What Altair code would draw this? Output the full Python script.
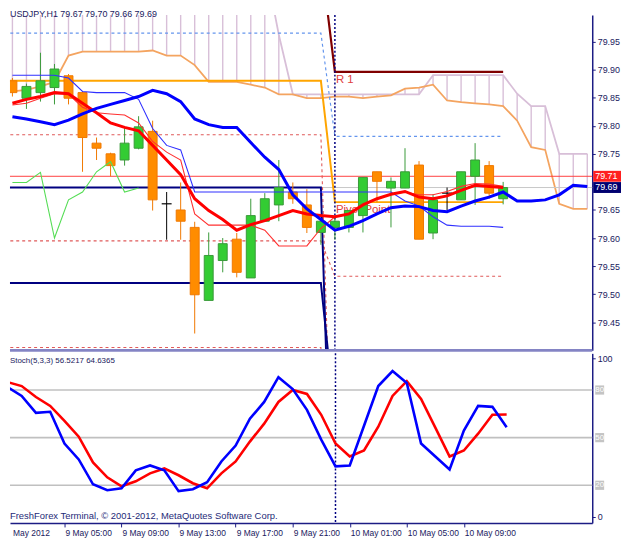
import altair as alt
import pandas as pd

# ---------------- data (USDJPY H1, bar index 0 = 9 May 2012 00:00) ----------------
bar_index = list(range(1, 37))
open_ = [79.880, 79.849, 79.859, 79.868, 79.889, 79.859, 79.769, 79.750, 79.739, 79.760,
         79.790, 79.661, 79.650, 79.619, 79.489, 79.560, 79.598, 79.529, 79.630, 79.659,
         79.682, 79.659, 79.610, 79.619, 79.619, 79.640, 79.718, 79.689, 79.689, 79.730,
         79.609, 79.680, 79.668, 79.710, 79.729, 79.670]
high = [79.885, 79.875, 79.930, 79.910, 79.892, 79.862, 79.779, 79.752, 79.797, 79.817,
        79.809, 79.682, 79.699, 79.629, 79.610, 79.600, 79.609, 79.670, 79.680, 79.739,
        79.699, 79.687, 79.635, 79.635, 79.649, 79.708, 79.718, 79.708, 79.760, 79.737,
        79.678, 79.690, 79.718, 79.769, 79.737, 79.700]
low = [79.852, 79.830, 79.843, 79.838, 79.838, 79.718, 79.739, 79.710, 79.729, 79.758,
       79.649, 79.597, 79.597, 79.430, 79.489, 79.539, 79.530, 79.529, 79.630, 79.630,
       79.661, 79.609, 79.588, 79.597, 79.610, 79.610, 79.664, 79.619, 79.689, 79.598,
       79.598, 79.650, 79.668, 79.659, 79.670, 79.660]
close = [79.859, 79.870, 79.880, 79.901, 79.849, 79.779, 79.760, 79.729, 79.769, 79.798,
         79.668, 79.661, 79.630, 79.499, 79.569, 79.590, 79.539, 79.640, 79.670, 79.690,
         79.670, 79.619, 79.630, 79.630, 79.649, 79.708, 79.701, 79.701, 79.718, 79.598,
         79.668, 79.680, 79.718, 79.739, 79.680, 79.690]

tenkan = [79.840, 79.847, 79.852, 79.859, 79.857, 79.840, 79.823, 79.805, 79.797, 79.791,
          79.765, 79.739, 79.713, 79.670, 79.649, 79.633, 79.614, 79.624, 79.631, 79.640,
          79.649, 79.643, 79.640, 79.638, 79.643, 79.659, 79.670, 79.678, 79.683, 79.673,
          79.670, 79.675, 79.685, 79.694, 79.692, 79.690]
thin_red = [79.837, 79.840, 79.849, 79.857, 79.856, 79.833, 79.823, 79.821, 79.819, 79.805,
            79.772, 79.753, 79.739, 79.643, 79.623, 79.623, 79.623, 79.623, 79.614, 79.586,
            79.586, 79.586, 79.617, 79.638, 79.643, 79.659, 79.670, 79.678, 79.682, 79.677,
            79.677, 79.683, 79.692, 79.697, 79.696, 79.692]
thin_blue = [79.890, 79.890, 79.890, 79.890, 79.885, 79.861, 79.859, 79.859, 79.859, 79.847,
             79.795, 79.765, 79.757, 79.682, 79.682, 79.682, 79.682, 79.682, 79.682, 79.682,
             79.682, 79.682, 79.682, 79.682, 79.682, 79.682, 79.682, 79.682, 79.666, 79.657,
             79.638, 79.623, 79.621, 79.621, 79.621, 79.619]

span_index = list(range(1, 43))
kijun = [79.816, 79.812, 79.807, 79.802, 79.810, 79.821, 79.831, 79.838, 79.845, 79.852,
         79.863, 79.857, 79.843, 79.812, 79.802, 79.797, 79.797, 79.770, 79.744, 79.722,
         79.677, 79.652, 79.633, 79.614, 79.621, 79.631, 79.643, 79.654, 79.657, 79.656,
         79.649, 79.647, 79.657, 79.666, 79.673, 79.682, 79.666, 79.666, 79.668, 79.677,
         79.694, 79.692]
senkou_a = [79.861, 79.864, 79.870, 79.878, 79.925, 79.932, 79.932, 79.932, 79.932, 79.932,
            79.934, 79.925, 79.925, 79.908, 79.878, 79.878, 79.878, 79.873, 79.868, 79.856,
            79.856, 79.849, 79.849, 79.852, 79.852, 79.849, 79.852, 79.854, 79.866, 79.868,
            79.873, 79.845, 79.842, 79.840, 79.838, 79.835, 79.809, 79.762, 79.757, 79.661,
            79.652, 79.652]
senkou_b = [80.090] * 19 + [79.962] + [79.856] * 10 + [79.890] * 6 + \
           [79.857, 79.835, 79.835, 79.750, 79.750, 79.750]

chikou_index = list(range(1, 11))
chikou = [79.699, 79.699, 79.717, 79.600, 79.668, 79.682, 79.718, 79.736, 79.682, 79.689]

# daily pivot levels: value for 9 May (old) and for 10 May (new)
level_names = ["R1", "blue_dash", "red_dash_1", "red_dash_2", "red_dash_3", "navy_1", "navy_2", "pivot"]
level_old = [80.100, 79.965, 79.784, 79.595, 79.405, 79.690, 79.520, 79.880]
level_new = [79.896, 79.781, 78.970, 79.532, 78.900, 78.900, 79.280, 79.664]
last_old_bar = 23
first_new_bar = 24
last_bar = 36

ask_line = 79.71
bid_line = 79.69

# stochastic (5,3,3)
stoch_k = [81.9, 76.3, 65.6, 66.3, 46.3, 36.3, 20.6, 16.9, 18.1, 29.4, 32.5, 29.4, 16.3,
           17.5, 21.9, 35.0, 45.0, 61.9, 72.5, 88.1, 80.6, 67.5, 48.8, 31.9, 32.5, 57.5,
           82.5, 91.9, 84.4, 46.3, 38.1, 30.0, 54.4, 70.0, 69.4, 56.5]
stoch_d = [85.0, 82.5, 75.6, 70.0, 60.6, 50.6, 34.4, 25.0, 19.4, 22.5, 27.5, 30.6, 26.3,
           21.3, 18.1, 27.5, 35.0, 47.5, 58.8, 72.5, 80.0, 77.5, 64.4, 46.3, 38.1, 41.9,
           56.9, 76.3, 85.6, 74.4, 56.3, 38.1, 41.9, 52.5, 64.4, 64.6]
stoch_levels = [80, 50, 20]

tick_bars = [5, 9, 13, 17, 21, 25, 29, 33]
tick_labels = ["9 May 05:00", "9 May 09:00", "9 May 13:00", "9 May 17:00", "9 May 21:00",
               "10 May 01:00", "10 May 05:00", "10 May 09:00"]
price_ticks = [79.45, 79.50, 79.55, 79.60, 79.65, 79.75, 79.80, 79.85, 79.90, 79.95]

title_text = "USDJPY,H1  79.67 79.70 79.66 79.69"
stoch_text = "Stoch(5,3,3) 56.5217 64.6365"
footer_text = "FreshForex Terminal, \u00a9 2001-2012, MetaQuotes Software Corp."

# ---------------- layout / styles ----------------
W = 587
H_MAIN = 338
H_STOCH = 171
FONT = "Liberation Sans"
AXC = "#1c1c84"
TXT = "#1a1a60"

XS = alt.Scale(domain=[1.18, 42.0], nice=False, zero=False)
YS = alt.Scale(domain=[79.40, 79.997], nice=False, zero=False)
SS = alt.Scale(domain=[-3.75, 103.1], nice=False, zero=False)

yax = alt.Axis(orient="right", values=price_ticks, format=".2f", title=None, grid=False,
               domainColor=AXC, domainWidth=1.5, tickColor=AXC, tickSize=3,
               labelColor=TXT, labelFont=FONT, labelFontSize=9, labelPadding=2)
sax = alt.Axis(orient="right", values=[0, 100], title=None, grid=False,
               domainColor=AXC, domainWidth=1.5, tickColor=AXC, tickSize=3,
               labelColor=TXT, labelFont=FONT, labelFontSize=9, labelPadding=2)
xax = alt.Axis(values=tick_bars, labels=False, title=None, grid=False, domainColor=AXC,
               domainWidth=1.5, tickColor=AXC, tickSize=4)


def XM(f="i"):
    return alt.X(f"{f}:Q", scale=XS, axis=None)


def XS_(f="i"):
    return alt.X(f"{f}:Q", scale=XS, axis=xax)


def Y(f):
    return alt.Y(f"{f}:Q", scale=YS, axis=yax)


def S(f):
    return alt.Y(f"{f}:Q", scale=SS, axis=sax)


# ---------------- main panel ----------------
cloud = pd.DataFrame({"i": span_index, "a": senkou_a, "b": senkou_b, "kijun": kijun})
candles = pd.DataFrame({"i": bar_index, "o": open_, "h": high, "l": low, "c": close,
                        "tenkan": tenkan, "tr": thin_red, "tb": thin_blue})
candles["dir"] = ["up" if c > o else ("down" if c < o else "doji") for o, c in zip(open_, close)]
chik = pd.DataFrame({"i": chikou_index, "p": chikou})

layers = []
layers.append(alt.Chart(cloud).mark_rule(color="#D8BFD8", strokeWidth=1.4, clip=True)
              .encode(x=XM(), y=Y("a"), y2="b"))
layers.append(alt.Chart(cloud).mark_line(color="#D8BFD8", strokeWidth=1.8, clip=True)
              .encode(x=XM(), y=Y("b")))
layers.append(alt.Chart(cloud).mark_line(color="#F4A460", strokeWidth=1.8, clip=True)
              .encode(x=XM(), y=Y("a")))

layers.append(alt.Chart(pd.DataFrame({"p": [bid_line]})).mark_rule(color="#C8C8C8", strokeWidth=1)
              .encode(y=Y("p")))
layers.append(alt.Chart(pd.DataFrame({"p": [ask_line]})).mark_rule(color="#FF4040", strokeWidth=1)
              .encode(y=Y("p")))

level_style = {
    "R1": dict(color="#800000", strokeWidth=2.2),
    "blue_dash": dict(color="#6495ED", strokeWidth=1.2, strokeDash=[3, 3]),
    "red_dash_1": dict(color="#E05A5A", strokeWidth=1.1, strokeDash=[3, 3]),
    "red_dash_2": dict(color="#E05A5A", strokeWidth=1.1, strokeDash=[3, 3]),
    "red_dash_3": dict(color="#E05A5A", strokeWidth=1.1, strokeDash=[3, 3]),
    "navy_1": dict(color="#000080", strokeWidth=2),
    "navy_2": dict(color="#000080", strokeWidth=2),
    "pivot": dict(color="#FFA500", strokeWidth=2),
}
for name, o, n in zip(level_names, level_old, level_new):
    d = pd.DataFrame({"i": [0, last_old_bar, first_new_bar, last_bar], "p": [o, o, n, n]})
    layers.append(alt.Chart(d).mark_line(clip=True, **level_style[name]).encode(x=XM(), y=Y("p")))

layers.append(alt.Chart(pd.DataFrame({"i": [first_new_bar]}))
              .mark_rule(color="#000080", strokeWidth=1.5, strokeDash=[2, 2]).encode(x=XM()))

ann = pd.DataFrame({"i": [first_new_bar, first_new_bar],
                    "p": [level_new[level_names.index("R1")], level_new[level_names.index("pivot")]],
                    "t": ["R 1", "Pivot Point"]})
layers.append(alt.Chart(ann).mark_text(align="left", baseline="middle", dx=1, dy=8, font=FONT,
                                       fontSize=11.5, color="#E04040")
              .encode(x=XM(), y=Y("p"), text="t:N"))

dir_scale_stroke = alt.Scale(domain=["up", "down", "doji"], range=["#3A9A3A", "#F07800", "#000000"])
dir_scale_fill = alt.Scale(domain=["up", "down"], range=["#33CC33", "#FF8C00"])
layers.append(alt.Chart(candles).mark_rule(strokeWidth=1, clip=True)
              .encode(x=XM(), y=Y("l"), y2="h",
                      color=alt.Color("dir:N", scale=dir_scale_stroke, legend=None)))
layers.append(alt.Chart(candles).transform_filter("datum.dir != 'doji'")
              .mark_bar(size=9, strokeWidth=1, clip=True)
              .encode(x=XM(), y=Y("o"), y2="c",
                      fill=alt.Fill("dir:N", scale=dir_scale_fill, legend=None),
                      stroke=alt.Stroke("dir:N", scale=dir_scale_stroke, legend=None)))
layers.append(alt.Chart(candles).transform_filter("datum.dir == 'doji'")
              .mark_point(shape="M-1,0L1,0", size=100, filled=False, color="#000000",
                          strokeWidth=1.2, opacity=1)
              .encode(x=XM(), y=Y("o")))

layers.append(alt.Chart(chik).mark_line(color="#55DD55", strokeWidth=1.1, clip=True)
              .encode(x=XM(), y=Y("p")))
layers.append(alt.Chart(candles).mark_line(color="#FF3030", strokeWidth=1.1, clip=True)
              .encode(x=XM(), y=Y("tr")))
layers.append(alt.Chart(candles).mark_line(color="#3030FF", strokeWidth=1.1, clip=True)
              .encode(x=XM(), y=Y("tb")))
layers.append(alt.Chart(candles).mark_line(color="#FF0000", strokeWidth=3, clip=True)
              .encode(x=XM(), y=Y("tenkan")))
layers.append(alt.Chart(cloud).mark_line(color="#0000FF", strokeWidth=3, clip=True)
              .encode(x=XM(), y=Y("kijun")))

layers.append(alt.Chart(pd.DataFrame({"t": [title_text]}))
              .mark_text(align="left", baseline="middle", font=FONT, fontSize=9, color=TXT)
              .encode(x=alt.value(0), y=alt.value(-1), text="t:N"))

# price tags at right axis (fixed colours, one layer each)
for price, label, bg in [(ask_line, "79.71", "#FF2020"), (bid_line, "79.69", "#000070")]:
    tg = pd.DataFrame({"p": [price], "top": [price + 0.0097], "bot": [price - 0.0097], "t": [label]})
    layers.append(alt.Chart(tg).mark_rect(color=bg)
                  .encode(x=alt.value(W + 1), x2=alt.value(W + 29), y=Y("top"), y2="bot"))
    layers.append(alt.Chart(tg).mark_text(align="left", baseline="middle", font=FONT, fontSize=9,
                                          color="#FFFFFF")
                  .encode(x=alt.value(W + 3), y=Y("p"), text="t:N"))

# separator band between panels
layers.append(alt.Chart(pd.DataFrame({"p": [79.40]})).mark_rule(color="#8484C4", strokeWidth=3)
              .encode(y=Y("p")))

main = alt.layer(*layers).properties(width=W, height=H_MAIN)

# ---------------- stochastic panel ----------------
st = pd.DataFrame({"i": bar_index, "k": stoch_k, "d": stoch_d})
lv = pd.DataFrame({"v": stoch_levels, "t": [str(v) for v in stoch_levels]})
lv["top"] = lv["v"] + 2.9
lv["bot"] = lv["v"] - 2.9
ticks = pd.DataFrame({"i": tick_bars, "t": tick_labels})

sl = []
sl.append(alt.Chart(lv).mark_rule(color="#C0C0C0", strokeWidth=1.6).encode(y=S("v")))
sl.append(alt.Chart(pd.DataFrame({"i": [first_new_bar]}))
          .mark_rule(color="#000080", strokeWidth=1.5, strokeDash=[2, 2]).encode(x=XS_()))
sl.append(alt.Chart(st).mark_line(color="#FF0000", strokeWidth=2.6, clip=True)
          .encode(x=XS_(), y=S("d")))
sl.append(alt.Chart(st).mark_line(color="#0000FF", strokeWidth=2.6, clip=True)
          .encode(x=XS_(), y=S("k")))
sl.append(alt.Chart(lv).mark_rect(color="#C4C4C4")
          .encode(x=alt.value(W + 3), x2=alt.value(W + 12), y=S("top"), y2="bot"))
sl.append(alt.Chart(lv).mark_text(align="center", baseline="middle", font=FONT, fontSize=8,
                                  color="#FFFFFF")
          .encode(x=alt.value(W + 7.5), y=S("v"), text="t:N"))
sl.append(alt.Chart(pd.DataFrame({"t": [stoch_text]}))
          .mark_text(align="left", baseline="middle", font=FONT, fontSize=8, color=TXT)
          .encode(x=alt.value(0), y=alt.value(8), text="t:N"))
sl.append(alt.Chart(pd.DataFrame({"t": [footer_text]}))
          .mark_text(align="left", baseline="middle", font=FONT, fontSize=9.5, color="#1E2A78")
          .encode(x=alt.value(0), y=alt.value(164), text="t:N"))
sl.append(alt.Chart(ticks).mark_text(align="left", baseline="middle", dx=1, font=FONT,
                                     fontSize=8.5, color=TXT)
          .encode(x=XS_(), y=alt.value(H_STOCH + 10), text="t:N"))
sl.append(alt.Chart(pd.DataFrame({"t": ["May 2012"]}))
          .mark_text(align="left", baseline="middle", font=FONT, fontSize=8.5, color=TXT)
          .encode(x=alt.value(3), y=alt.value(H_STOCH + 10), text="t:N"))

stoch = alt.layer(*sl).properties(width=W, height=H_STOCH)

chart = (alt.vconcat(main, stoch, spacing=3, bounds="flush")
         .properties(padding=0, background="#FFFFFF")
         .configure_view(stroke=None))

chart.save("out.html", embed_options={"renderer": "svg", "actions": False})
